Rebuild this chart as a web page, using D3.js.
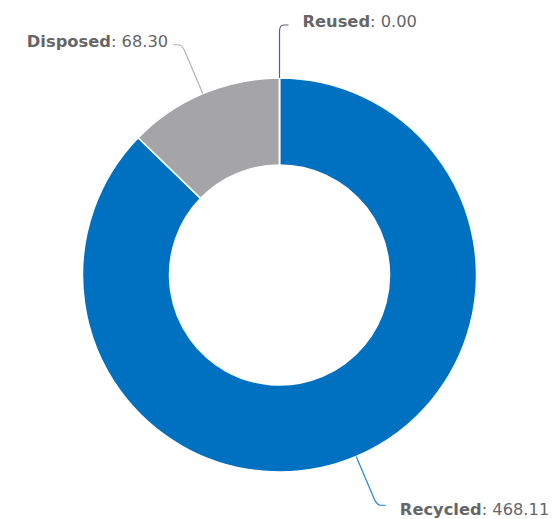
<!DOCTYPE html>
<html>
<head>
<meta charset="utf-8">
<script src="https://cdn.jsdelivr.net/npm/d3@7"></script>
<style>
  html, body { margin: 0; padding: 0; background: #fff; }
  svg { display: block; }
  .lbl { font-family: "DejaVu Sans", Verdana, sans-serif; font-size: 16.3px; fill: #666; }
  .lbl .name { font-weight: bold; }
</style>
</head>
<body>
<svg class="donut"></svg>
<script>
// data
const categories = ['Recycled', 'Disposed', 'Reused'];
const values = [468.11, 68.30, 0.00];
const colors = ['#0070c0', '#a5a5a7', '#34486e'];

const width = 552, height = 519;
const cx = 279.5, cy = 275;
const outerR = 197, innerR = 110;
const labelDist = 53;

let svg = d3.select('.donut').attr('width', width).attr('height', height);

let rows = categories.map((c, i) => ({ name: c, value: values[i], color: colors[i] }));

let pie = d3.pie()
    .sort(null)
    .value(d => d.value)
    .startAngle(0)
    .endAngle(2 * Math.PI);

let arcs = pie(rows);

let arc = d3.arc().innerRadius(innerR).outerRadius(outerR);

let g = svg.append('g').attr('transform', `translate(${cx},${cy})`);

g.selectAll('path.slice')
    .data(arcs)
    .join('path')
    .attr('class', 'slice')
    .attr('d', arc)
    .style('fill', d => d.data.color)
    .style('stroke', '#fff')
    .style('stroke-width', 1.5)
    .style('stroke-linejoin', 'round');

// point on circle of radius r at angle a (0 = top, clockwise)
function pt(a, r) {
    return [Math.sin(a) * r, -Math.cos(a) * r];
}

arcs.forEach((d) => {
    let a = (d.startAngle + d.endAngle) / 2;
    let right = Math.sin(a) >= -1e-6;
    let dir = right ? 1 : -1;

    let o = pt(a, outerR);
    let p = pt(a, outerR + labelDist);

    // radial run, then a small rounded turn into a horizontal stub
    let bend = 7;
    let q = pt(a, outerR + labelDist - bend);
    let end = [p[0] + dir * 9, p[1]];

    let path = d3.path();
    path.moveTo(o[0], o[1]);
    path.lineTo(q[0], q[1]);
    path.quadraticCurveTo(p[0], p[1], p[0] + dir * 4, p[1]);
    path.lineTo(end[0], end[1]);

    g.append('path')
        .attr('d', path.toString())
        .style('fill', 'none')
        .style('stroke', d.data.color)
        .style('stroke-width', 1.2)
        .style('opacity', 0.85);

    let t = g.append('text')
        .attr('class', 'lbl')
        .attr('x', end[0] + dir * (right ? 14 : 5))
        .attr('y', p[1] + (p[1] > 0 ? 5 : -3))
        .attr('dominant-baseline', 'middle')
        .attr('text-anchor', right ? 'start' : 'end');

    t.append('tspan').attr('class', 'name').text(d.data.name);
    t.append('tspan').text(': ' + d3.format('.2f')(d.data.value));
});
</script>
</body>
</html>
